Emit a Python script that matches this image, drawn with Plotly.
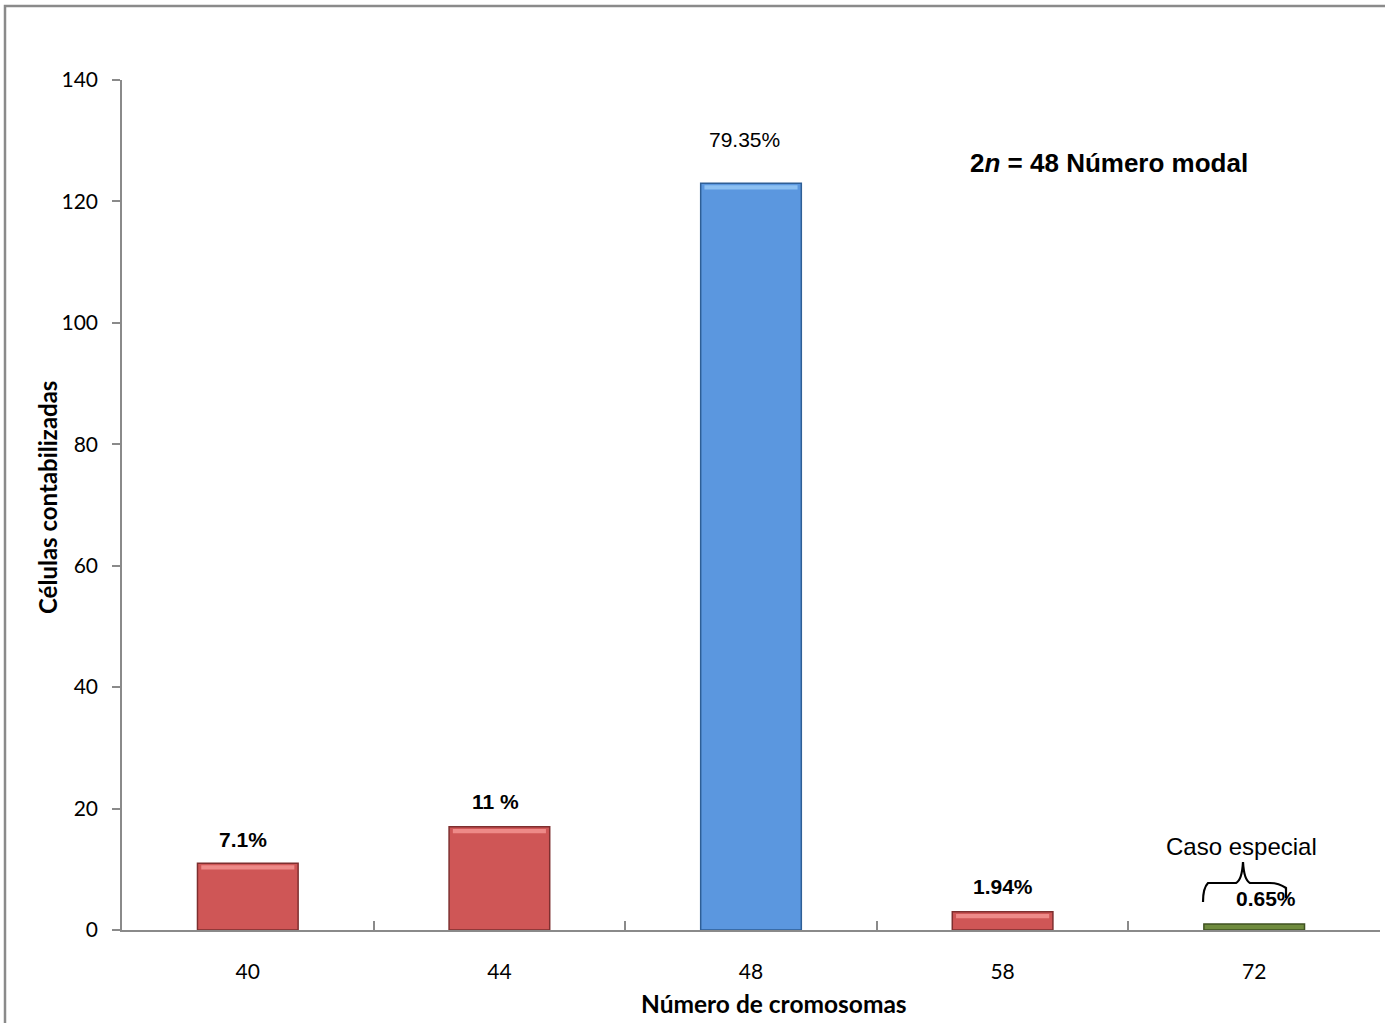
import plotly.graph_objects as go

# Chromosome counts per cell and number of cells counted
cromosomas = ["40", "44", "48", "58", "72"]
celulas = [11, 17, 123, 3, 1]
porcentajes = ["7.1%", "11 %", "79.35%", "1.94%", "0.65%"]
y_ticks = [0, 20, 40, 60, 80, 100, 120, 140]

bar_fill = ["#CF5656", "#CF5656", "#5B97DF", "#CF5656", "#6F8B3E"]
bar_edge = ["#7E2F2F", "#7E2F2F", "#2F5F96", "#7E2F2F", "#3F5222"]
bar_shine = ["#EE8A88", "#EE8A88", "#8CC0F2", "#EE8A88", "#6F8B3E"]

W, H = 1385, 1023
L, R, T, B = 122, 5, 80, 93


def px(x):
    return (x - L) / (W - L - R)


def py(y):
    return (H - B - y) / (H - T - B)


fig = go.Figure()
fig.add_trace(go.Bar(
    x=cromosomas,
    y=celulas,
    marker=dict(color=bar_fill, line=dict(color=bar_edge, width=1.5)),
    width=0.4,
    hoverinfo="x+y",
))

# light bevel strip along the top of each bar
shine_h = 0.7
fig.add_trace(go.Bar(
    x=cromosomas,
    y=[shine_h if v > 2 else 0 for v in celulas],
    base=[v - shine_h - 0.35 for v in celulas],
    marker=dict(color=bar_shine, line=dict(width=0)),
    width=0.37,
    hoverinfo="skip",
))

# value labels above each bar (x given as category index)
label_shift = [10, 12, 30, 12, 12]
label_dx = [-5, -4, -7, 0, 12]
label_bold = [True, True, False, True, True]
for i, (v, t, s, dx, b) in enumerate(zip(celulas, porcentajes, label_shift, label_dx, label_bold)):
    fig.add_annotation(
        x=i, y=v, text=f"<b>{t}</b>" if b else t, showarrow=False,
        yanchor="bottom", yshift=s, xshift=dx,
        font=dict(family="Liberation Sans", size=21, color="#000000"),
    )

# modal number note
fig.add_annotation(
    x=px(1109), y=py(163), xref="paper", yref="paper", showarrow=False,
    xanchor="center", yanchor="middle",
    text="<b>2<i>n</i> = 48 Número modal</b>",
    font=dict(family="Liberation Sans", size=26, color="#000000"),
)

# special case note with brace
fig.add_annotation(
    x=px(1241), y=py(846), xref="paper", yref="paper", showarrow=False,
    xanchor="center", yanchor="middle",
    text="Caso especial",
    font=dict(family="Liberation Sans", size=24, color="#000000"),
)

pts = [(1203, 902), (1203, 888), (1208, 883), (1216, 883),
       (1236, 883), (1242, 880), (1243, 862),
       (1244, 880), (1250, 883), (1270, 883),
       (1279, 883), (1286, 888), (1286, 898)]


def P(p):
    return f"{px(p[0]):.5f},{py(p[1]):.5f}"


path = (f"M {P(pts[0])} Q {P(pts[1])} {P(pts[2])} L {P(pts[3])} L {P(pts[4])} "
        f"Q {P(pts[5])} {P(pts[6])} Q {P(pts[7])} {P(pts[8])} L {P(pts[9])} "
        f"Q {P(pts[10])} {P(pts[11])} L {P(pts[12])}")
fig.add_shape(type="path", path=path, xref="paper", yref="paper",
              line=dict(color="#000000", width=2.2))

# axis titles
fig.add_annotation(
    x=px(47), y=py(498), xref="paper", yref="paper", showarrow=False,
    xanchor="center", yanchor="middle", textangle=-90,
    text="<b>Células contabilizadas</b>",
    font=dict(family="Lato", size=24, color="#000000"),
)
fig.add_annotation(
    x=px(774), y=py(1003), xref="paper", yref="paper", showarrow=False,
    xanchor="center", yanchor="middle",
    text="<b>Número de cromosomas</b>",
    font=dict(family="Lato", size=24.5, color="#000000"),
)

# chart frame
fig.add_shape(type="rect", xref="paper", yref="paper",
              x0=px(5), x1=px(1400), y0=py(1040), y1=py(6),
              line=dict(color="#8A8A8A", width=2.5), layer="below")

fig.update_layout(
    width=W, height=H,
    margin=dict(l=L, r=R, t=T, b=B),
    paper_bgcolor="#FFFFFF", plot_bgcolor="#FFFFFF",
    showlegend=False,
    barmode="overlay",
    font=dict(family="Lato", color="#000000"),
)
fig.update_xaxes(
    type="category", range=[-0.5, 4.5], tickangle=0,
    showline=True, linecolor="#8A8A8A", linewidth=1.5,
    ticks="inside", tickson="boundaries", ticklen=9, tickcolor="#8A8A8A", tickwidth=1.5,
    tickfont=dict(family="Lato", size=21, color="#000000"),
    ticklabelstandoff=22,
    showgrid=False,
)
fig.update_yaxes(
    range=[0, 140], tickvals=y_ticks,
    showline=True, linecolor="#8A8A8A", linewidth=1.5,
    ticks="outside", ticklen=8, tickcolor="#8A8A8A", tickwidth=1.5,
    tickfont=dict(family="Lato", size=21, color="#000000"),
    ticklabelstandoff=10,
    showgrid=False, zeroline=False,
)

fig.write_html("out.html")
